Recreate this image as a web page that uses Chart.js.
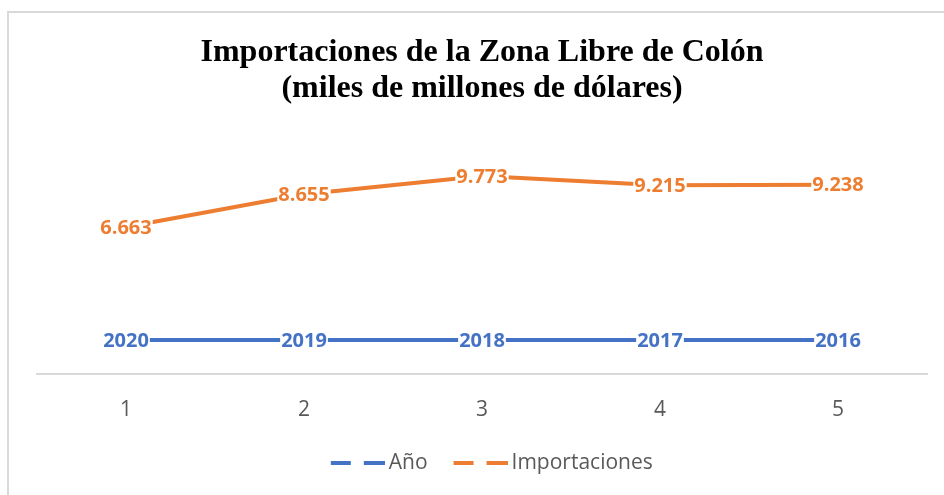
<!DOCTYPE html>
<html>
<head>
<meta charset="utf-8">
<script src="https://cdn.jsdelivr.net/npm/chart.js@4.4.1/dist/chart.umd.min.js"></script>
<style>
  body { margin: 0; background: #fff; }
  #wrap { width: 944px; height: 495px; position: relative; }
</style>
</head>
<body>
<div id="wrap"><canvas id="myChart"></canvas></div>
<script>
const categorias = ['1', '2', '3', '4', '5'];
const anios = [2020, 2019, 2018, 2017, 2016];
const importaciones = [6.663, 8.655, 9.773, 9.215, 9.238];

const azul = '#4472C4';
const naranja = '#ED7D31';

// marco gris del grafico (como el de Excel)
const marco = {
    id: 'marco',
    beforeDraw(chart) {
        const ctx = chart.ctx;
        ctx.save();
        ctx.strokeStyle = '#d9d9d9';
        ctx.lineWidth = 2;
        ctx.strokeRect(8, 12, 1200, 1200);
        ctx.restore();
    }
};

// etiquetas de datos centradas sobre cada punto
const etiquetas = {
    id: 'etiquetas',
    afterDatasetsDraw(chart) {
        const ctx = chart.ctx;
        ctx.save();
        ctx.font = 'bold 20px "Open Sans"';
        ctx.textAlign = 'center';
        ctx.textBaseline = 'middle';
        chart.data.datasets.forEach((ds, i) => {
            const meta = chart.getDatasetMeta(i);
            meta.data.forEach((pt, j) => {
                const v = ds.data[j];
                const txt = i === 0 ? String(v) : v.toFixed(3);
                const w = ctx.measureText(txt).width;
                ctx.fillStyle = '#fff';
                ctx.fillRect(pt.x - w / 2 - 1, pt.y - 8, w + 2, 17);
                ctx.fillStyle = ds.borderColor;
                ctx.fillText(txt, pt.x, pt.y + 1);
            });
        });
        ctx.restore();
    }
};

// marcador de leyenda: linea discontinua con hueco a la izquierda
function crearMarcador(color) {
    const c = document.createElement('canvas');
    c.width = 80;
    c.height = 4;
    const g = c.getContext('2d');
    g.fillStyle = color;
    g.fillRect(26, 0, 20, 4);
    g.fillRect(59, 0, 21, 4);
    return c;
}
const marcadores = [crearMarcador(azul), crearMarcador(naranja)];

const ctx = document.getElementById('myChart').getContext('2d');

const chart = new Chart(ctx, {
    type: 'line',
    data: {
        labels: categorias,
        datasets: [{
            label: 'Año',
            data: anios,
            borderColor: azul,
            backgroundColor: azul,
            borderWidth: 4,
            pointRadius: 0,
            tension: 0,
            yAxisID: 'y'
        }, {
            label: 'Importaciones',
            data: importaciones,
            borderColor: naranja,
            backgroundColor: naranja,
            borderWidth: 4,
            pointRadius: 0,
            tension: 0,
            yAxisID: 'y2'
        }]
    },
    options: {
        responsive: true,
        maintainAspectRatio: false,
        animation: false,
        layout: {
            padding: { top: 15.5, left: 37, right: 17, bottom: 11.5 }
        },
        scales: {
            x: {
                offset: true,
                grid: { display: false, drawTicks: false },
                border: { display: true, color: '#d9d9d9', width: 2 },
                ticks: {
                    color: '#595959',
                    padding: 17.5,
                    font: { family: 'Open Sans', size: 21, lineHeight: 1.762 }
                }
            },
            y: {
                display: false,
                min: 0,
                max: 15274
            },
            y2: {
                display: false,
                min: -2.3,
                max: 13.376
            }
        },
        plugins: {
            title: {
                display: true,
                text: ['Importaciones de la Zona Libre de Colón', '(miles de millones de dólares)'],
                color: '#000',
                font: { family: 'Liberation Serif', size: 32, weight: 'bold', lineHeight: 1.1 },
                padding: { top: 20, bottom: 11 }
            },
            legend: {
                position: 'bottom',
                labels: {
                    color: '#595959',
                    font: { family: 'Open Sans', size: 21 },
                    usePointStyle: true,
                    pointStyleWidth: 67,
                    padding: 6.5,
                    generateLabels: function (chart) {
                        return chart.data.datasets.map((ds, i) => ({
                            text: ds.label,
                            datasetIndex: i,
                            pointStyle: marcadores[i],
                            strokeStyle: ds.borderColor,
                            fillStyle: ds.borderColor,
                            lineWidth: 0,
                            fontColor: '#595959'
                        }));
                    }
                }
            },
            tooltip: { enabled: false }
        }
    },
    plugins: [marco, etiquetas]
});
</script>
</body>
</html>
